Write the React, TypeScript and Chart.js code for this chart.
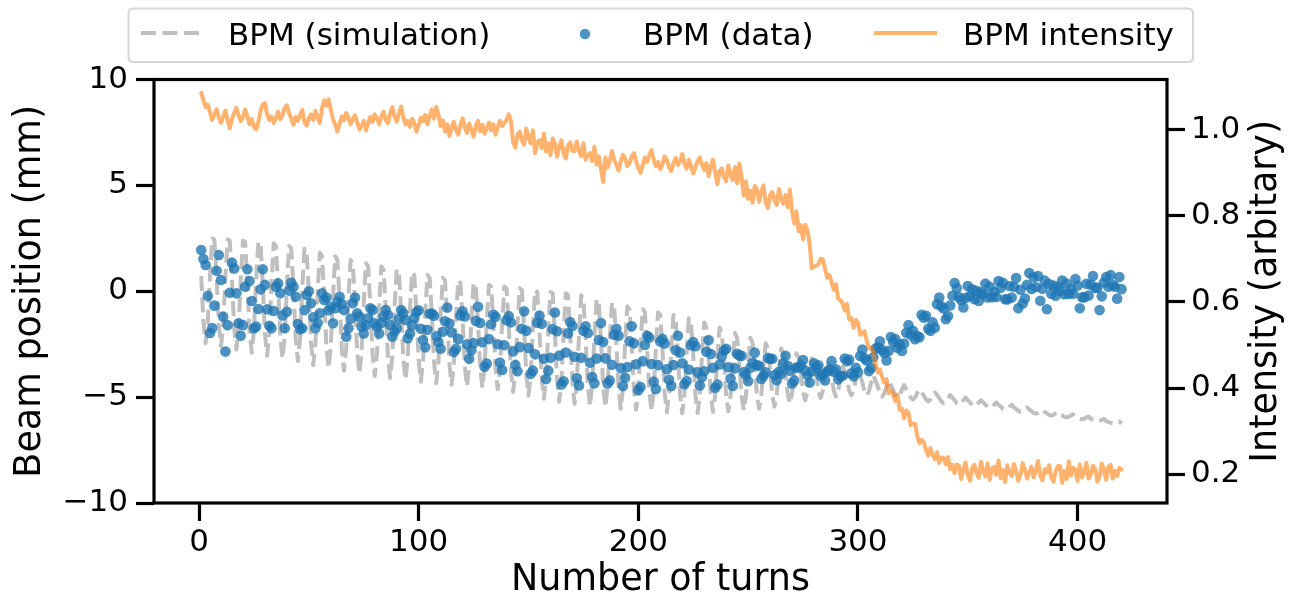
import React, { useEffect, useRef } from "react";
import { Chart, registerables } from "chart.js";

Chart.register(...registerables);

// ---------- data ----------
const turns: number[] = Array.from({ length: 420 }, (_, i) => i + 1);

const simulation: number[] = [
  0.72, -1.46, -2.45, -1.46, 0.72, 2.49,
  2.44, 0.63, -1.59, -2.6, -1.59, 0.63, 2.44,
  2.38, 0.54, -1.72, -2.75, -1.72, 0.54, 2.38,
  2.33, 0.46, -1.86, -2.9, -1.86, 0.46, 2.33,
  2.27, 0.37, -1.99, -3.05, -1.99, 0.37, 2.27,
  2.14, 0.24, -2.12, -3.18, -2.12, 0.24, 2.14,
  2.02, 0.12, -2.24, -3.3, -2.24, 0.12, 2.02,
  1.82, -0.08, -2.44, -3.5, -2.44, -0.08, 1.82,
  1.65, -0.24, -2.57, -3.63, -2.57, -0.24, 1.65,
  1.48, -0.39, -2.71, -3.76, -2.71, -0.39, 1.48,
  1.32, -0.55, -2.85, -3.89, -2.85, -0.55, 1.32,
  1.17, -0.68, -2.97, -4.0, -2.97, -0.68, 1.17,
  1.03, -0.81, -3.07, -4.1, -3.07, -0.81, 1.03,
  0.91, -0.91, -3.16, -4.18, -3.16, -0.91, 0.91,
  0.77, -1.04, -3.26, -4.27, -3.26, -1.04, 0.77,
  0.64, -1.14, -3.34, -4.34, -3.34, -1.14, 0.64,
  0.52, -1.25, -3.43, -4.42, -3.43, -1.25, 0.52,
  0.4, -1.35, -3.52, -4.5, -3.52, -1.35, 0.4,
  0.3, -1.44, -3.59, -4.56, -3.59, -1.44, 0.3,
  0.22, -1.52, -3.66, -4.63, -3.66, -1.52, 0.22,
  0.14, -1.61, -3.78, -4.76, -3.78, -1.61, 0.14,
  0.06, -1.72, -3.92, -4.92, -3.92, -1.72, 0.06,
  -0.03, -1.84, -4.07, -5.08, -4.07, -1.84, -0.03,
  -0.09, -1.93, -4.19, -5.22, -4.19, -1.93, -0.09,
  -0.19, -2.03, -4.29, -5.32, -4.29, -2.03, -0.19,
  -0.36, -2.17, -4.4, -5.41, -4.4, -2.17, -0.36,
  -0.54, -2.31, -4.49, -5.48, -4.49, -2.31, -0.54,
  -0.71, -2.44, -4.58, -5.55, -4.58, -2.44, -0.71,
  -0.85, -2.55, -4.65, -5.6, -4.65, -2.55, -0.85,
  -0.99, -2.66, -4.73, -5.66, -4.73, -2.66, -0.99,
  -1.12, -2.77, -4.8, -5.72, -4.8, -2.77, -1.12,
  -1.28, -2.88, -4.86, -5.76, -4.86, -2.88, -1.28,
  -1.48, -3.0, -4.9, -5.75, -4.9, -3.0, -1.48,
  -1.71, -3.14, -4.9, -5.7, -4.9, -3.14, -1.71,
  -1.97, -3.29, -4.93, -5.67, -4.93, -3.29, -1.97,
  -2.2, -3.42, -4.94, -5.62, -4.94, -3.42, -2.2,
  -2.46, -3.56, -4.92, -5.54, -4.92, -3.56, -2.46,
  -2.7, -3.68, -4.9, -5.45, -4.9, -3.68, -2.7,
  -2.93, -3.78, -4.83, -5.3, -4.83, -3.78, -2.93,
  -3.16, -3.87, -4.75, -5.15, -4.75, -3.87, -3.16,
  -3.34, -3.95, -4.71, -5.05, -4.71, -3.95, -3.34,
  -3.55, -4.06, -4.69, -4.97, -4.69, -4.06, -3.55,
  -3.74, -4.16, -4.68, -4.92, -4.68, -4.16, -3.74,
  -3.97, -4.31, -4.73, -4.92, -4.73, -4.31, -3.97,
  -4.22, -4.49, -4.83, -4.98, -4.83, -4.49, -4.22,
  -4.43, -4.65, -4.92, -5.04, -4.92, -4.65, -4.43,
  -4.63, -4.8, -5.02, -5.12, -5.02, -4.8, -4.63,
  -4.78, -4.93, -5.12, -5.2, -5.12, -4.93, -4.78,
  -4.9, -5.04, -5.2, -5.28, -5.2, -5.04, -4.9,
  -5.02, -5.14, -5.29, -5.36, -5.29, -5.14, -5.02,
  -5.14, -5.25, -5.38, -5.44, -5.38, -5.25, -5.14,
  -5.25, -5.35, -5.47, -5.52, -5.47, -5.35, -5.25,
  -5.37, -5.45, -5.55, -5.6, -5.55, -5.45, -5.37,
  -5.48, -5.56, -5.65, -5.69, -5.65, -5.56, -5.48,
  -5.59, -5.66, -5.74, -5.78, -5.74, -5.66, -5.59,
  -5.7, -5.76, -5.84, -5.87, -5.84, -5.76, -5.7,
  -5.81, -5.86, -5.93, -5.96, -5.93, -5.86, -5.81,
  -5.92, -5.96, -6.02, -6.05, -6.02, -5.96, -5.92,
  -6.03, -6.07, -6.12, -6.14, -6.12, -6.07, -6.03,
  -6.14, -6.17, -6.21, -6.23, -6.21, -6.17, -6.14,
  -6.25,
];

const bpmData: number[] = [
  1.95, 1.52, 1.24, -0.22, -1.97, -1.74, -0.68, 0.97, 1.71, 0.53,
  -1.2, -2.85, -1.6, -0.07, 1.35, 1.08, -0.1, -1.51, -2.1, -1.6,
  0.21, 1.04, 0.48, -0.46, -1.75, -1.67, -0.84, 0.09, 1.04, 0.3,
  -0.85, -1.63, -1.75, -0.93, 0.21, 0.37, -0.1, -1.14, -1.75, -0.97,
  0.03, 0.4, 0.21, -0.26, -1.55, -1.8, -1.75, -0.89, -0.18, 0.0,
  -0.57, -1.23, -1.75, -1.5, -1.04, -0.1, -0.41, -0.3, -0.9, -0.73,
  -1.51, -0.8, -0.5, -0.26, -0.6, -0.89, -2.15, -1.75, -1.3, -0.57,
  -0.3, -1.04, -1.2, -1.67, -1.99, -1.6, -1.28, -0.8, -0.89, -1.51,
  -1.67, -1.99, -1.5, -1.2, -0.89, -1.12, -1.59, -2.15, -1.9, -1.75,
  -1.3, -0.89, -1.04, -1.36, -2.22, -2.0, -1.6,
  -1.25, -0.98, -0.9, -1.77, -2.3, -2.65, -1.82,
  -1.06, -1.05, -1.16, -2.11, -2.41, -2.71, -1.91,
  -1.42, -0.77, -1.52, -1.95, -2.87, -2.72, -2.25,
  -1.14, -0.95, -1.19, -2.5, -3.19, -2.79, -2.45,
  -1.4, -0.73, -1.5, -2.41, -3.56, -3.41, -2.26,
  -1.56, -1.1, -1.21, -2.5, -3.37, -3.72, -2.55,
  -1.37, -1.17, -1.47, -2.84, -3.48, -3.78, -2.64,
  -1.77, -0.95, -1.87, -2.68, -3.9, -3.75, -2.98,
  -1.49, -1.15, -1.54, -3.19, -4.15, -3.75, -3.14,
  -1.79, -1.0, -1.89, -3.04, -4.4, -4.25, -2.89,
  -1.99, -1.45, -1.64, -3.09, -4.1, -4.45, -3.14,
  -1.87, -1.65, -1.97, -3.38, -4.05, -4.35, -3.18,
  -2.3, -1.5, -2.4, -3.17, -4.36, -4.21, -3.47,
  -2.05, -1.77, -2.1, -3.63, -4.48, -4.08, -3.58,
  -2.36, -1.65, -2.46, -3.45, -4.67, -4.52, -3.3,
  -2.54, -2.1, -2.19, -3.44, -4.27, -4.62, -3.49,
  -2.37, -2.25, -2.47, -3.68, -4.18, -4.48, -3.48,
  -2.79, -2.1, -2.89, -3.4, -4.39, -4.24, -3.7,
  -2.55, -2.4, -2.6, -3.83, -4.45, -4.05, -3.78,
  -2.86, -2.3, -2.96, -3.61, -4.56, -4.41, -3.46,
  -3.07, -2.8, -2.72, -3.59, -4.12, -4.47, -3.64,
  -2.95, -3.03, -3.05, -3.81, -3.95, -4.25, -3.61,
  -3.38, -2.9, -3.48, -3.53, -4.14, -3.99, -3.83,
  -3.14, -3.2, -3.19, -3.96, -4.2, -3.8, -3.91,
  -3.42, -3.05, -3.52, -3.75, -4.36, -4.21, -3.6,
  -3.6, -3.5, -3.25, -3.74, -3.96, -4.31, -3.79,
  -3.4, -3.6, -3.5, -3.99, -3.91, -4.21, -3.79,
  -3.7, -3.3, -3.8, -3.69, -4.16, -4.01, -3.99,
  -3.18, -3.3, -3.23, -3.88, -4.02, -3.62, -3.83,
  -3.06, -2.75, -3.16, -3.27, -3.77, -3.62, -3.12,
  -2.71, -2.65, -2.36, -2.77, -2.92, -3.27, -2.82,
  -2.16, -2.4, -2.26, -2.67, -2.52, -2.82, -2.47,
  -1.96, -1.6, -2.06, -1.87, -2.27, -2.12, -2.17,
  -1.11, -1.25, -1.16, -1.77, -1.87, -1.47, -1.72,
  -0.61, -0.3, -0.71, -0.82, -1.32, -1.17, -0.67,
  -0.21, 0.39, 0.14, -0.27, -0.42, -0.77, -0.32,
  0.25, -0.22, 0.09, -0.37, 0.02, -0.46, -0.05,
  -0.13, 0.36, -0.29, 0.21, -0.28, -0.04, -0.27,
  0.48, 0.17, 0.4, -0.38, -0.39, 0.25, -0.3,
  0.21, 0.62, -0.8, 0.07, -0.58, -0.34, 0.31,
  0.86, 0.11, 0.66, 0.2, 0.72, -0.45, 0.12,
  0.5, -0.85, 0.34, -0.12, 0.27, -0.21, 0.2,
  0.02, 0.51, -0.14, 0.36, -0.13, 0.11, -0.12,
  0.58, 0.27, -0.8, -0.28, -0.29, 0.35, -0.2,
  0.31, 0.72, 0.15, 0.17, -0.89, -0.24, 0.41,
  0.67, 0.21, 0.76, 0.3, 0.21, -0.35, 0.67,
  0.1,
];

const intensity: number[] = [
  1.085, 1.068, 1.052, 1.058, 1.04, 1.022, 1.035, 1.047, 1.028, 1.016,
  1.03, 1.044, 1.021, 1.003, 1.025, 1.038, 1.05, 1.033, 1.019, 1.029,
  1.046, 1.031, 1.012, 1.024, 1.006, 1.0, 1.018, 1.042, 1.058, 1.061,
  1.036, 1.022, 1.03, 1.015, 1.027, 1.041, 1.024, 1.033, 1.05, 1.056,
  1.038, 1.026, 1.011, 1.029, 1.02, 1.034, 1.045, 1.017, 1.009, 1.026,
  1.035, 1.022, 1.043, 1.028, 1.015, 1.05, 1.068, 1.055, 1.07, 1.046,
  1.024, 1.011, 0.995, 1.013, 1.03, 1.021, 1.038, 1.027, 1.012, 1.025,
  1.033, 1.017, 1.0, 1.008, 1.02, 0.998, 1.014, 1.029, 1.018, 1.035,
  1.026, 1.012, 1.03, 1.041, 1.022, 1.015, 1.036, 1.052, 1.03, 1.018,
  1.037, 1.053, 1.028, 1.012, 1.02, 1.006, 1.025, 1.015, 0.995, 1.01,
  1.028, 1.019, 1.034, 1.012, 1.03, 1.046, 1.025, 1.052, 1.035, 1.008,
  1.021, 0.995, 1.012, 0.985, 1.004, 1.018, 1.0, 0.988, 1.01, 1.026,
  1.005, 0.992, 1.014, 1.0, 0.983, 1.008, 1.02, 0.996, 1.011, 0.99,
  1.003, 1.016, 0.998, 1.012, 0.988, 1.006, 1.02, 1.008, 1.015, 1.022,
  1.035, 1.02, 0.97, 0.958, 0.988, 0.995, 0.975, 0.965, 1.002, 0.98, 0.968, 0.998, 0.945, 0.971, 0.975, 0.957, 0.99, 0.949, 0.968, 0.94, 0.979,
  0.967, 0.937, 0.96, 0.975, 0.945, 0.933, 0.963, 0.97, 0.95, 0.95, 0.972, 0.95, 0.938, 0.968, 0.93, 0.941, 0.945, 0.927, 0.96, 0.919, 0.938, 0.91, 0.878,
  0.935, 0.912, 0.928, 0.95, 0.93, 0.918, 0.905, 0.926, 0.941, 0.933, 0.915,
  0.922, 0.938, 0.945, 0.927, 0.91, 0.899, 0.918, 0.935, 0.925, 0.94, 0.952, 0.93,
  0.915, 0.925, 0.908, 0.92, 0.937, 0.929, 0.912, 0.904, 0.922, 0.934, 0.918, 0.926,
  0.943, 0.921, 0.909, 0.93, 0.915, 0.898, 0.912, 0.927, 0.935, 0.918, 0.906,
  0.922, 0.892, 0.915, 0.93, 0.9, 0.873, 0.903, 0.91, 0.89, 0.88, 0.917, 0.895, 0.883, 0.913, 0.875, 0.921, 0.89, 0.847, 0.88, 0.839, 0.858, 0.83, 0.869,
  0.862, 0.832, 0.855, 0.87, 0.83, 0.818, 0.848, 0.855, 0.835, 0.825, 0.862, 0.84, 0.828, 0.848, 0.82, 0.861, 0.81, 0.782, 0.81, 0.764, 0.778, 0.745, 0.779,
  0.767, 0.734, 0.678, 0.682, 0.684, 0.687, 0.7, 0.699, 0.677, 0.656, 0.663, 0.645, 0.628, 0.641, 0.608, 0.604, 0.596, 0.58, 0.595, 0.56, 0.562, 0.54, 0.558,
  0.552, 0.524, 0.528, 0.532, 0.509, 0.492, 0.495, 0.484, 0.457, 0.436, 0.443, 0.425, 0.413, 0.421, 0.388, 0.394, 0.386, 0.37, 0.385, 0.35, 0.352, 0.33, 0.348,
  0.342, 0.314, 0.318, 0.317, 0.289, 0.272, 0.28, 0.274, 0.255, 0.243, 0.261, 0.245, 0.235, 0.251, 0.226, 0.239, 0.238, 0.223, 0.24, 0.212, 0.222, 0.203, 0.223,
  0.219, 0.189, 0.212, 0.227, 0.197, 0.185, 0.215, 0.222, 0.202, 0.192, 0.229, 0.207, 0.195, 0.225, 0.187, 0.213, 0.217, 0.199, 0.232, 0.191, 0.21, 0.182, 0.221,
  0.205, 0.196, 0.224, 0.208, 0.185, 0.2, 0.226, 0.211, 0.19, 0.203, 0.218, 0.193, 0.209, 0.231, 0.197, 0.186, 0.212, 0.204, 0.221, 0.194, 0.183, 0.206, 0.219,
  0.219, 0.18, 0.208, 0.189, 0.23, 0.197, 0.215, 0.211, 0.185, 0.223, 0.193, 0.205, 0.227, 0.19, 0.2, 0.22, 0.213, 0.183, 0.195, 0.225, 0.21, 0.187, 0.217,
  0.222, 0.19, 0.208, 0.196, 0.215, 0.211,
];

const xTicks: number[] = [0, 100, 200, 300, 400];
const yTicks: number[] = [-10, -5, 0, 5, 10];
const intensityTicks: number[] = [0.2, 0.4, 0.6, 0.8, 1.0];

const seriesLabels: string[] = ["BPM (simulation)", "BPM (data)", "BPM intensity"];
const xTitle = "Number of turns";
const yTitle = "Beam position (mm)";
const y1Title = "Intensity (arbitary)";

// ---------- styles ----------
const FONT = '"DejaVu Sans", "Liberation Sans", sans-serif';
const SIM_COLOR = "#bfbfbf";
const DATA_COLOR = "rgba(31,119,180,0.8)";
const INT_COLOR = "rgba(255,127,14,0.6)";
const W = 1296;
const H = 599;

const framePlugin = {
  id: "frame",
  afterDatasetsDraw(chart: any) {
    const { ctx, chartArea: a } = chart;
    ctx.save();
    ctx.strokeStyle = "#000";
    ctx.lineWidth = 3.2;
    ctx.strokeRect(a.left, a.top, a.right - a.left, a.bottom - a.top);
    ctx.restore();
  },
};

const decorPlugin = {
  id: "decor",
  afterDraw(chart: any) {
    const { ctx, chartArea: a } = chart;
    ctx.save();
    // right axis title, reading bottom-to-top
    ctx.translate(chart.width - 29.6, (a.top + a.bottom) / 2);
    ctx.rotate(-Math.PI / 2);
    ctx.font = `36.5px ${FONT}`;
    ctx.fillStyle = "#000";
    ctx.textAlign = "center";
    ctx.textBaseline = "middle";
    ctx.fillText(y1Title, 0, 0);
    ctx.restore();

    // legend
    ctx.save();
    const bx = 128.5, by = 8.5, bw = 1064.5, bh = 53.5, r = 5;
    ctx.beginPath();
    ctx.moveTo(bx + r, by);
    ctx.lineTo(bx + bw - r, by);
    ctx.quadraticCurveTo(bx + bw, by, bx + bw, by + r);
    ctx.lineTo(bx + bw, by + bh - r);
    ctx.quadraticCurveTo(bx + bw, by + bh, bx + bw - r, by + bh);
    ctx.lineTo(bx + r, by + bh);
    ctx.quadraticCurveTo(bx, by + bh, bx, by + bh - r);
    ctx.lineTo(bx, by + r);
    ctx.quadraticCurveTo(bx, by, bx + r, by);
    ctx.closePath();
    ctx.fillStyle = "#fff";
    ctx.fill();
    ctx.strokeStyle = "#d6d6d6";
    ctx.lineWidth = 2;
    ctx.stroke();

    const hy = 33;
    ctx.beginPath();
    ctx.setLineDash([15, 6.5]);
    ctx.strokeStyle = SIM_COLOR;
    ctx.lineWidth = 4;
    ctx.moveTo(141, hy);
    ctx.lineTo(203, hy);
    ctx.stroke();
    ctx.setLineDash([]);
    ctx.beginPath();
    ctx.fillStyle = DATA_COLOR;
    ctx.arc(585, hy + 1, 5.2, 0, Math.PI * 2);
    ctx.fill();
    ctx.beginPath();
    ctx.strokeStyle = INT_COLOR;
    ctx.lineWidth = 4.2;
    ctx.moveTo(874, hy);
    ctx.lineTo(937, hy);
    ctx.stroke();

    ctx.fillStyle = "#000";
    ctx.font = `31px ${FONT}`;
    ctx.textAlign = "left";
    ctx.textBaseline = "alphabetic";
    ctx.fillText(seriesLabels[0], 228, 45);
    ctx.fillText(seriesLabels[1], 643, 45);
    ctx.fillText(seriesLabels[2], 963, 45);
    ctx.restore();
  },
};

const tickFont = { family: FONT, size: 31, lineHeight: 1.2 };
const titleFont = { family: FONT, size: 36.5, lineHeight: 1 };
const gridOpts = {
  display: true,
  drawOnChartArea: false,
  drawTicks: true,
  tickLength: 18,
  tickWidth: 3.2,
  tickColor: "#000",
};

export default function App() {
  const ref = useRef<HTMLCanvasElement | null>(null);

  useEffect(() => {
    document.body.style.margin = "0";
    document.body.style.overflow = "hidden";
    const canvas = ref.current;
    if (!canvas) return;

    const chart = new Chart(canvas, {
      type: "line",
      data: {
        datasets: [
          {
            label: seriesLabels[2],
            data: turns.map((t, i) => ({ x: t, y: intensity[i] })),
            yAxisID: "y1",
            borderColor: INT_COLOR,
            borderWidth: 4,
            borderJoinStyle: "round",
            borderCapStyle: "round",
            pointRadius: 0,
            tension: 0,
            fill: false,
          },
          {
            label: seriesLabels[1],
            data: turns.map((t, i) => ({ x: t, y: bpmData[i] })),
            yAxisID: "y",
            showLine: false,
            pointRadius: 5.3,
            pointHoverRadius: 5.3,
            pointBackgroundColor: DATA_COLOR,
            pointBorderWidth: 0,
            backgroundColor: DATA_COLOR,
            borderColor: DATA_COLOR,
          },
          {
            label: seriesLabels[0],
            data: turns.map((t, i) => ({ x: t, y: simulation[i] })),
            yAxisID: "y",
            borderColor: SIM_COLOR,
            borderWidth: 4,
            borderDash: [15, 6.5],
            borderJoinStyle: "round",
            borderCapStyle: "butt",
            pointRadius: 0,
            tension: 0,
            fill: false,
          },
        ],
      },
      options: {
        responsive: false,
        animation: false,
        events: [],
        layout: { padding: { top: 79.5, left: 0, right: 0, bottom: 0 } },
        plugins: {
          legend: { display: false },
          tooltip: { enabled: false },
        },
        scales: {
          x: {
            type: "linear",
            position: "bottom",
            min: -20.5,
            max: 440.7,
            afterBuildTicks: (s: any) => {
              s.ticks = xTicks.map((v) => ({ value: v }));
            },
            afterFit: (s: any) => {
              s.height = 96;
            },
            ticks: {
              font: tickFont,
              color: "#000",
              padding: 3,
              autoSkip: false,
              maxRotation: 0,
              callback: (v: any) => String(v),
            },
            grid: gridOpts,
            border: { display: false },
            title: {
              display: true,
              text: xTitle,
              color: "#000",
              font: titleFont,
              padding: { top: 0, bottom: 0 },
            },
          },
          y: {
            type: "linear",
            position: "left",
            min: -10,
            max: 10,
            afterBuildTicks: (s: any) => {
              s.ticks = yTicks.map((v) => ({ value: v }));
            },
            afterFit: (s: any) => {
              s.width = 154;
            },
            ticks: {
              font: tickFont,
              color: "#000",
              padding: 8,
              autoSkip: false,
              callback: (v: any) => String(v).replace("-", "\u2212"),
            },
            grid: gridOpts,
            border: { display: false },
            title: {
              display: true,
              text: yTitle,
              color: "#000",
              font: titleFont,
              padding: { top: 12.5, bottom: 0 },
            },
          },
          y1: {
            type: "linear",
            position: "right",
            min: 0.1334,
            max: 1.116,
            afterBuildTicks: (s: any) => {
              s.ticks = intensityTicks.map((v) => ({ value: v }));
            },
            afterFit: (s: any) => {
              s.width = 129;
            },
            ticks: {
              font: tickFont,
              color: "#000",
              padding: 6,
              autoSkip: false,
              callback: (v: any) => Number(v).toFixed(1),
            },
            grid: gridOpts,
            border: { display: false },
            title: { display: false },
          },
        },
      },
      plugins: [framePlugin, decorPlugin],
    } as any);

    return () => chart.destroy();
  }, []);

  return (
    <div style={{ width: W, height: H, overflow: "hidden", background: "#fff" }}>
      <canvas ref={ref} width={W} height={H} style={{ display: "block", width: W, height: H }} />
    </div>
  );
}
